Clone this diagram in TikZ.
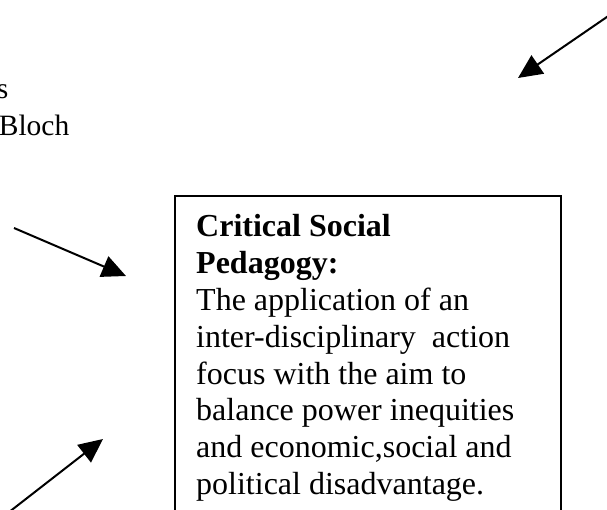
\documentclass[tikz,border=0pt]{standalone}
\usepackage{fontspec}
\setmainfont{Liberation Serif}
\usetikzlibrary{arrows.meta}
\begin{document}
\begin{tikzpicture}[x=1pt,y=1pt,
    pointer/.style={line width=2pt,-{Triangle[length=24pt,width=22pt]}},
    frame/.style={draw=black,line width=2pt},
    sidetext/.style={inner sep=0pt,anchor=base east,font=\fontsize{29.5}{34}\selectfont}]
  % canvas
  \useasboundingbox (0,0) rectangle (607,-509);
  \clip (0,0) rectangle (607,-509);
  \fill[white] (0,0) rectangle (607,-509);

  % names listed at the left edge
  \node[sidetext] (nameA) at (8.5,-98.5) {s};
  \node[sidetext] (nameB) at (69.5,-135) {Bloch};

  % definition box (runs past the lower edge)
  \draw[frame] (175,-196) rectangle (561,-560);
  \node[inner sep=0pt,anchor=north west,align=left,
        font=\fontsize{32}{36.8}\selectfont] (csp) at (196,-214.5)
    {\textbf{Critical Social}\\
     \textbf{Pedagogy:}\\
     The application of an\\
     inter-disciplinary\ \ action\\
     focus with the aim to\\
     balance power inequities\\
     and economic,social and\\
     political disadvantage.};

  % arrow ends
  \coordinate (a1s) at (620,-8);
  \coordinate (a1e) at (518,-78);
  \coordinate (a2s) at (14,-228);
  \coordinate (a2e) at (126,-276);
  \coordinate (a3s) at (5,-515.2);
  \coordinate (a3e) at (103,-439);

  \draw[pointer] (a1s) -- (a1e);
  \draw[pointer] (a2s) -- (a2e);
  \draw[pointer] (a3s) -- (a3e);
\end{tikzpicture}
\end{document}
